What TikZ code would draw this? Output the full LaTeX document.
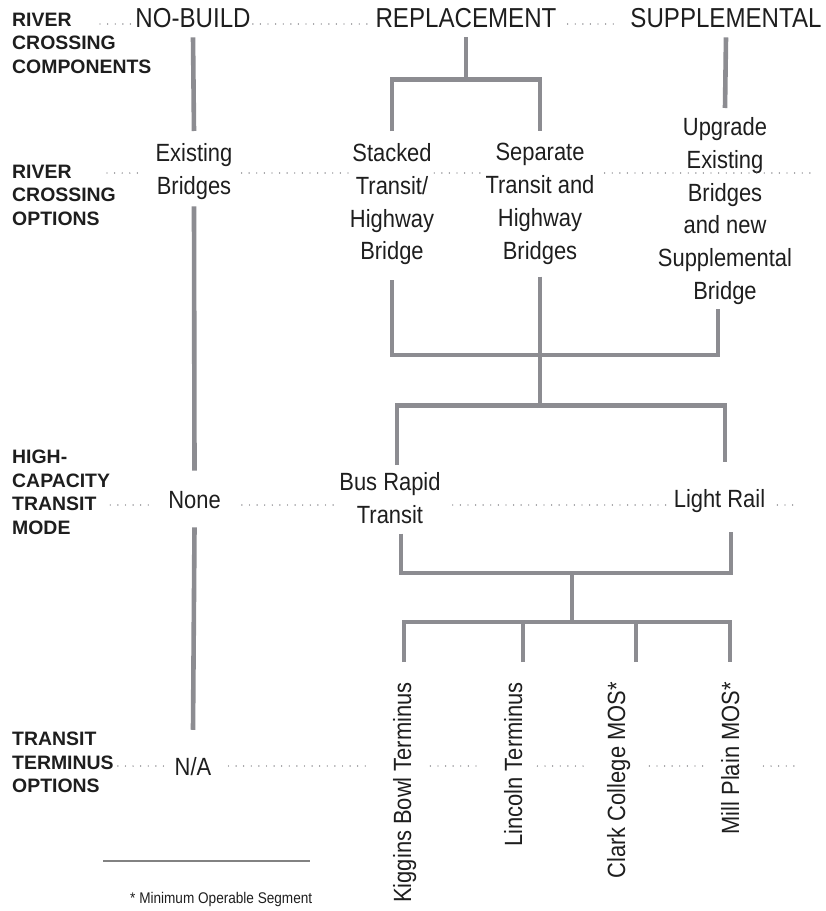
\documentclass[tikz,border=0pt]{standalone}
\usepackage{fontspec}
\setmainfont{Liberation Sans}
\newfontfamily\condfont[FakeStretch=0.88]{Liberation Sans}
\definecolor{branchgray}{RGB}{140,140,145}
\definecolor{dotgray}{RGB}{105,105,110}
\definecolor{rulegray}{RGB}{130,130,130}
\definecolor{inkblack}{RGB}{30,30,30}
\newcommand{\topfont}{\condfont\fontsize{27.5}{33}\selectfont}
\newcommand{\optfont}{\condfont\fontsize{25}{33}\selectfont}
\newcommand{\labfont}{\bfseries\fontsize{19.5}{23.5}\selectfont}
\newcommand{\notefont}{\condfont\fontsize{15.5}{18}\selectfont}
\tikzset{
  component/.style={font=\topfont, text=inkblack, inner sep=0pt, anchor=base},
  option/.style={font=\optfont, text=inkblack, inner sep=0pt, align=center},
  rowlabel/.style={font=\labfont, text=inkblack, inner sep=0pt, align=left, anchor=north west},
  terminus/.style={font=\optfont, text=inkblack, inner sep=0pt, rotate=90, anchor=base east},
  branch/.style={draw=branchgray, line width=4.6bp},
  dotrow/.style={draw=dotgray, line width=1.4bp, line cap=round, dash pattern=on 0bp off 7.6bp},
}

\begin{document}
\begin{tikzpicture}[x=1bp, y=-1bp]
    \useasboundingbox (0,0) rectangle (826,911);

    % row labels
    \node[rowlabel] (lab1) at (12,13) {RIVER\\CROSSING\\COMPONENTS};
    \node[rowlabel] (lab2) at (12,165) {RIVER\\CROSSING\\OPTIONS};
    \node[rowlabel] (lab3) at (12,450) {HIGH-\\CAPACITY\\TRANSIT\\MODE};
    \node[rowlabel] (lab4) at (12,732) {TRANSIT\\TERMINUS\\OPTIONS};

    % river crossing components
    \node[component] (nobuild) at (193,27) {NO-BUILD};
    \node[component] (repl) at (466,27) {REPLACEMENT};
    \node[component] (supp) at (726,27) {SUPPLEMENTAL};

    % river crossing options
    \node[option, anchor=north] (existing) at (194,143) {Existing\\Bridges};
    \node[option, anchor=north] (stacked) at (392,143) {Stacked\\Transit/\\Highway\\Bridge};
    \node[option, anchor=north] (separate) at (540,143) {Separate\\Transit and\\Highway\\Bridges};
    \node[option, anchor=north] (upgrade) at (725,117) {Upgrade\\Existing\\Bridges\\and new\\Supplemental\\Bridge};

    % transit mode
    \node[option, anchor=base] (none) at (194.5,508) {None};
    \node[option, anchor=north] (brt) at (390,472) {Bus Rapid\\Transit};
    \node[option, anchor=base] (lrail) at (719.5,507) {Light Rail};

    % terminus options
    \node[option, anchor=base] (na) at (193,775) {N/A};
    \node[terminus] (kig) at (411,682) {Kiggins Bowl Terminus};
    \node[terminus] (lincoln) at (522,682) {Lincoln Terminus};
    \node[terminus] (clark) at (625,682) {Clark College MOS*};
    \node[terminus] (mill) at (739,682) {Mill Plain MOS*};

    % free ends of the dotted rows
    \coordinate (row1) at (100,24);
    \coordinate (row2) at (107,173);
    \coordinate (row2e) at (810,173);
    \coordinate (row3e) at (800,505);
    \coordinate (row4e) at (795,766);

    % dotted rows
    \draw[dotrow, shorten >=3bp] (row1) -- (nobuild.west |- row1);
    \draw[dotrow, shorten <=2bp, shorten >=6bp] (nobuild.east |- row1) -- (repl.west |- row1);
    \draw[dotrow, shorten <=11bp, shorten >=12bp] (repl.east |- row1) -- (supp.west |- row1);

    \draw[dotrow, shorten >=17bp] (row2) -- (existing.west |- row2);
    \draw[dotrow, shorten <=9bp] (existing.east |- row2) -- (stacked.west |- row2);
    \draw[dotrow, shorten >=5bp] (stacked.east |- row2) -- (separate.west |- row2);
    \draw[dotrow, shorten <=10bp] (separate.east |- row2) -- (row2e);

    \draw[dotrow, shorten >=18bp] (lab3.east |- row3e) -- (none.west |- row3e);
    \draw[dotrow, shorten <=21bp, shorten >=6bp] (none.east |- row3e) -- (brt.west |- row3e);
    \draw[dotrow, shorten <=12bp, shorten >=6bp] (brt.east |- row3e) -- (lrail.west |- row3e);
    \draw[dotrow, shorten <=12bp] (lrail.east |- row3e) -- (row3e);

    \draw[dotrow, shorten <=4bp, shorten >=7bp] (lab4.east |- row4e) -- (na.west |- row4e);
    \draw[dotrow, shorten <=17bp, shorten >=26bp] (na.east |- row4e) -- (kig.north |- row4e);
    \draw[dotrow, shorten <=14bp, shorten >=26bp] (kig.south |- row4e) -- (lincoln.north |- row4e);
    \draw[dotrow, shorten <=15bp, shorten >=17bp] (lincoln.south |- row4e) -- (clark.north |- row4e);
    \draw[dotrow, shorten <=19bp, shorten >=18bp] (clark.south |- row4e) -- (mill.north |- row4e);
    \draw[dotrow, shorten <=24bp] (mill.south |- row4e) -- (row4e);

    % no-build column
    \draw[branch] ([yshift=-10bp]nobuild.south) -- ([yshift=12bp]existing.north);
    \draw[branch] ([yshift=-7bp]existing.south) -- ([yshift=20bp]none.north);
    \draw[branch] ([yshift=-19bp]none.south) -- ([yshift=27bp]na.north);

    % components -> options
    \draw[branch] ([yshift=-10bp]repl.south) -- ++(0,42) coordinate (rsplit);
    \draw[branch] ([yshift=12bp]stacked.north) |- (rsplit) -| ([yshift=12bp]separate.north);
    \draw[branch] ([yshift=-10bp]supp.south) -- ([yshift=9bp]upgrade.north);

    % options -> mode
    \coordinate (osplit) at (540,355);
    \draw[branch] ([yshift=-15bp]stacked.south) |- (osplit);
    \draw[branch] ([xshift=-7bp, yshift=-4bp]upgrade.south) |- (osplit);
    \draw[branch] ([yshift=-12bp]separate.south) -- ++(0,129) coordinate (msplit);
    \draw[branch] ([xshift=7bp, yshift=7bp]brt.north) |- (msplit) -| ([xshift=5.5bp, yshift=27bp]lrail.north);

    % mode -> terminus
    \coordinate (tsplit) at (572,573);
    \draw[branch] ([xshift=11bp, yshift=-10bp]brt.south) |- (tsplit) -| ([xshift=11.5bp, yshift=-20bp]lrail.south);
    \draw[branch] (tsplit) -- ++(0,49) coordinate (tbar);
    \draw[branch] ([xshift=-7bp, yshift=20bp]kig.base east) |- (tbar) -| ([xshift=-9bp, yshift=20bp]mill.base east);
    \draw[branch] ([xshift=1bp, yshift=20bp]lincoln.base east) -- +(0,-40);
    \draw[branch] ([xshift=11bp, yshift=20bp]clark.base east) -- +(0,-40);

    % footnote
    \draw[draw=rulegray, line width=1.2bp] (103,861) -- (310,861);
    \node[font=\notefont, text=inkblack, inner sep=0pt, anchor=base west] (note) at (130,903) {* Minimum Operable Segment};
\end{tikzpicture}
\end{document}
